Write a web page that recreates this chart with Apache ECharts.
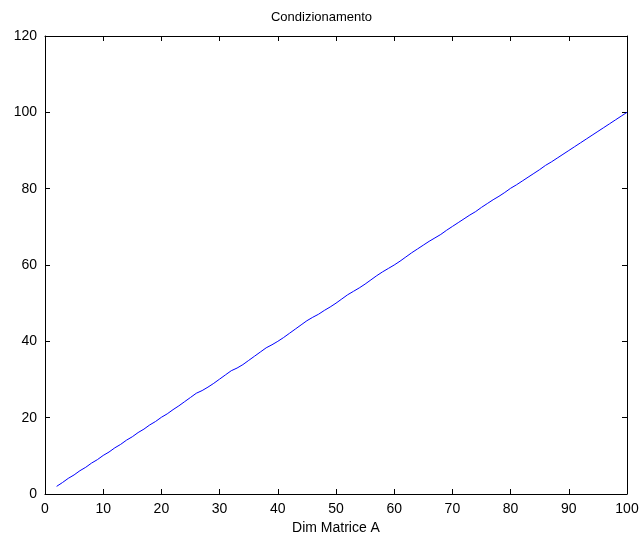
<!DOCTYPE html>
<html>
<head>
<meta charset="utf-8">
<script src="https://cdn.jsdelivr.net/npm/echarts@6/dist/echarts.min.js"></script>
<style>
  html, body { margin: 0; padding: 0; background: #fff; }
  #chart { width: 643px; height: 545px; }
</style>
</head>
<body>
<div id="chart"></div>
<script>
// Matrix dimension n and condition number of A
const dims = [
  2, 3, 4, 5, 6, 7, 8, 9, 10, 11, 12, 13, 14, 15, 16, 17, 18, 19, 20,
  21, 22, 23, 24, 25, 26, 27, 28, 29, 30, 31, 32, 33, 34, 35, 36, 37, 38, 39, 40,
  41, 42, 43, 44, 45, 46, 47, 48, 49, 50, 51, 52, 53, 54, 55, 56, 57, 58, 59, 60,
  61, 62, 63, 64, 65, 66, 67, 68, 69, 70, 71, 72, 73, 74, 75, 76, 77, 78, 79, 80,
  81, 82, 83, 84, 85, 86, 87, 88, 89, 90, 91, 92, 93, 94, 95, 96, 97, 98, 99, 100
];
const condA = [
  2.0, 3.0, 4.1, 5.0, 6.1, 7.0, 8.1, 9.0, 10.1, 11.0, 12.1, 13.0, 14.1, 15.0, 16.1, 17.0, 18.1, 19.0, 20.1,
  21.0, 22.1, 23.1, 24.2, 25.3, 26.4, 27.1, 28.0, 29.0, 30.1, 31.2, 32.3, 33.0, 33.9, 35.0, 36.1, 37.2, 38.3, 39.1, 40.0,
  41.0, 42.1, 43.2, 44.3, 45.4, 46.3, 47.1, 48.1, 49.0, 50.0, 51.1, 52.2, 53.1, 54.0, 55.0, 56.1, 57.2, 58.2, 59.1, 60.0,
  61.0, 62.1, 63.2, 64.2, 65.2, 66.2, 67.1, 68.0, 69.1, 70.1, 71.1, 72.1, 73.1, 74.0, 75.1, 76.1, 77.1, 78.0, 79.0, 80.1,
  81.0, 82.0, 83.0, 84.0, 85.0, 86.1, 87.0, 88.0, 89.0, 90.0, 91.0, 92.0, 93.0, 94.0, 95.0, 96.0, 97.0, 98.0, 99.0, 100.0
];
const xTicks = { min: 0, max: 100, step: 10 };
const yTicks = { min: 0, max: 120, step: 20 };

const points = dims.map((n, i) => [n, condA[i]]);

const font = "'Liberation Sans', Arial, sans-serif";
const axisBase = {
  type: 'value',
  axisLine: { show: true, onZero: false, lineStyle: { color: '#000', width: 1 } },
  axisTick: { show: true, inside: true, length: 5, lineStyle: { color: '#000', width: 1 } },
  splitLine: { show: false },
  axisLabel: { color: '#000', fontFamily: font, fontSize: 14 }
};

const chart = echarts.init(document.getElementById('chart'), null, { renderer: 'canvas' });
chart.setOption({
  animation: false,
  backgroundColor: '#fff',
  title: {
    text: 'Condizionamento',
    left: 'center',
    top: 6,
    textStyle: { color: '#000', fontFamily: font, fontSize: 13, fontWeight: 'normal' }
  },
  grid: { left: 45, right: 16, top: 36, bottom: 51, containLabel: false },
  xAxis: [
    Object.assign({}, axisBase, {
      position: 'bottom',
      min: xTicks.min, max: xTicks.max, interval: xTicks.step,
      name: 'Dim Matrice A', nameLocation: 'middle', nameGap: 27,
      nameTextStyle: { color: '#000', fontFamily: font, fontSize: 14 },
      axisLabel: Object.assign({}, axisBase.axisLabel, { margin: 8 })
    }),
    Object.assign({}, axisBase, {
      position: 'top',
      min: xTicks.min, max: xTicks.max, interval: xTicks.step,
      axisLabel: { show: false }
    })
  ],
  yAxis: [
    Object.assign({}, axisBase, {
      position: 'left',
      min: yTicks.min, max: yTicks.max, interval: yTicks.step,
      axisLabel: Object.assign({}, axisBase.axisLabel, { margin: 8 })
    }),
    Object.assign({}, axisBase, {
      position: 'right',
      min: yTicks.min, max: yTicks.max, interval: yTicks.step,
      axisLabel: { show: false }
    })
  ],
  series: [{
    type: 'line',
    xAxisIndex: 0,
    yAxisIndex: 0,
    data: points,
    showSymbol: false,
    lineStyle: { color: '#0000ff', width: 1 },
    smooth: false
  }]
});
</script>
</body>
</html>
